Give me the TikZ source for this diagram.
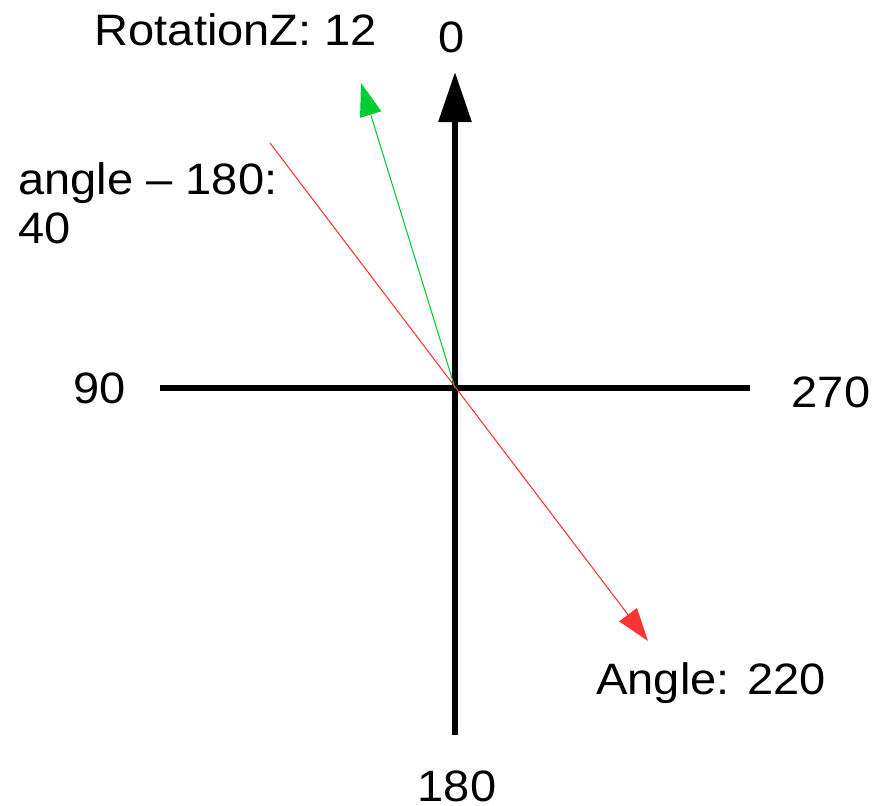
\documentclass[tikz,border=0pt]{standalone}
\usepackage{fontspec}
\setmainfont{Liberation Sans}[FakeStretch=1.07]
\usepackage{tikz}
\usetikzlibrary{arrows.meta,positioning}
\definecolor{rotGreen}{HTML}{00CC33}
\definecolor{angRed}{HTML}{FF3333}

\begin{document}
\begin{tikzpicture}[x=0.01cm,y=-0.01cm,font=\fontsize{12.5}{14}\selectfont,
    axisline/.style={line width=1.7pt},
    vecline/.style={line width=0.3pt,-{Triangle[length=3.3mm,width=2.2mm]}}]
  \useasboundingbox (0,0) rectangle (890,806);
  \coordinate (o) at (455,388);
  \coordinate (top) at (455,72);
  \coordinate (bottom) at (455,735);
  \coordinate (left) at (160,388);
  \coordinate (right) at (750,388);
  \coordinate (rotTip) at (361,83);
  \coordinate (angTail) at (270,143);
  \coordinate (angTip) at (648,641);
  % axes
  \draw[axisline,-{Triangle[length=5mm,width=3.2mm]}] (bottom) -- (top);
  \draw[axisline] (left) -- (right);
  % vectors
  \draw[vecline,rotGreen] (o) -- (rotTip);
  \draw[vecline,angRed] (angTail) -- (angTip);
  % labels
  \node (lblZero) at (452,37) {0};
  \node (lblNinety) at (100,388) {90};
  \node (lblTwoSeventy) at (831,392) {270};
  \node (lblOneEighty) at (457,786) {180};
  \node (lblRot) at (236,30) {RotationZ: 12};
  \node (lblAngle) at (711,683) {Angle: 220};
  \node[anchor=west,align=left] (lblDiff) at (6,203) {angle -- 180:\\40};
\end{tikzpicture}
\end{document}
